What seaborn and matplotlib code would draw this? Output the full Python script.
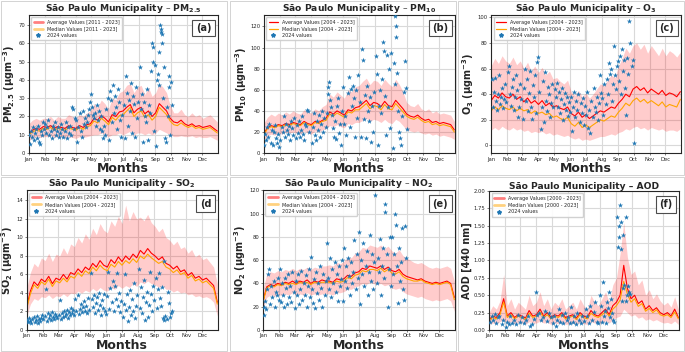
import numpy as np
import pandas as pd
import matplotlib
matplotlib.use("Agg")
import matplotlib.pyplot as plt
import matplotlib.dates as mdates
from matplotlib.lines import Line2D
from matplotlib.patches import Rectangle
import seaborn as sns

# weekly climatology (day 1, 8, ..., 365)
a_avg = [10.5, 12.5, 13.5, 13, 14.5, 14, 15, 13.5, 14.5, 14, 13.5, 15, 14, 13.5, 15, 14, 15.5, 16,
         19, 18, 20.5, 19, 17, 21, 20, 22.5, 23, 25, 26.5, 22, 24, 25, 21.5, 23, 20, 22, 27, 25, 23,
         19, 17, 16.5, 18, 16, 15, 16, 14.5, 15, 14, 14.5, 15, 13.5, 12]
a_med = [10, 11.5, 12.5, 12, 13.5, 13, 14, 12.5, 13.5, 13, 12.5, 14, 13, 12.5, 14, 13, 14.5, 15,
         17.5, 16.5, 19, 17.5, 15.5, 19.5, 18, 20.5, 21, 23, 25, 20, 22, 23, 19.5, 21, 18, 20, 25, 23, 21,
         17.5, 15.5, 15, 16.5, 15, 14, 15, 13.5, 14, 13, 13.5, 14, 12.5, 11]
a_lo = [7, 8, 9, 8.5, 9, 9, 9.5, 8.5, 9, 9, 8, 9, 8.5, 8, 9, 8.5, 9, 9.5, 10, 10, 11, 10, 9, 10, 10, 11,
        10, 11, 12, 10, 11, 11, 10, 11, 10, 11, 13, 12, 11, 10, 9, 9, 9.5, 9, 9, 9.5, 8.5, 9, 8.5, 8.5, 9, 8, 7]
a_hi = [16, 18, 19, 18, 19, 19, 20, 18, 20, 19, 19, 21, 20, 19, 21, 20, 22, 23, 27, 25, 29, 27, 24, 30, 29, 33,
        34, 37, 38, 33, 36, 37, 32, 36, 31, 33, 38, 36, 33, 26, 22, 22, 24, 21, 20, 22, 20, 21, 19, 20, 21, 19, 17]
a_day = [2, 3, 5, 7, 9, 11, 13, 15, 17, 19, 21, 23, 25, 27, 29, 31, 33, 35, 37, 39, 41, 43, 45, 47, 49, 51, 53, 55,
         57, 59, 62, 64, 66, 68, 70, 72, 74, 76, 78, 80, 82, 84, 86, 88, 90, 93, 95, 97, 99, 101, 103, 105, 107,
         109, 111, 113, 115, 117, 119, 121, 123, 125, 127, 129, 131, 133, 135, 137, 139, 141, 143, 145, 147, 149,
         151, 153, 155, 157, 159, 161, 163, 165, 167, 169, 171, 173, 175, 177, 179, 181, 184, 186, 188, 190, 192,
         194, 196, 198, 200, 202, 204, 206, 208, 210, 212, 215, 217, 219, 221, 223, 225, 227, 229, 231, 233, 235,
         237, 239, 240, 241, 243, 245, 247, 249, 251, 252, 253, 255, 256, 257, 258, 259, 261, 262, 264, 265, 267,
         269, 271, 272, 274, 276, 278]
a_val = [10, 5, 12, 9, 14, 7, 11, 13, 8, 15, 6, 5, 12, 10, 17, 13, 16, 11, 14, 18, 10, 12, 8, 15, 13, 17, 10, 12,
         14, 9, 11, 16, 13, 9, 12, 17, 8, 14, 11, 15, 10, 25, 24, 13, 19, 18, 6, 14, 22, 12, 9, 23, 16, 19, 14, 17,
         21, 24, 28, 32, 25, 21, 19, 22, 15, 26, 18, 23, 13, 20, 12, 8, 15, 10, 24, 30, 7, 34, 29, 17, 37, 22, 31,
         25, 13, 35, 28, 18, 9, 21, 26, 8, 42, 33, 15, 29, 23, 38, 11, 31, 27, 9, 36, 19, 28, 47, 24, 32, 6, 28, 20,
         17, 35, 7, 26, 22, 45, 60, 58, 50, 12, 48, 4, 40, 43, 37, 55, 70, 68, 66, 65, 60, 30, 47, 8, 6, 25, 20, 36,
         42, 10, 39, 26]

b_avg = [18, 24, 26, 25, 27, 26, 28, 27, 29, 28, 27, 30, 28, 27, 30, 29, 31, 33, 39, 37, 40, 38, 36, 41, 40, 43,
         44, 47, 50, 45, 48, 47, 44, 49, 45, 44, 50, 46, 42, 37, 35, 34, 36, 33, 31, 32, 29, 30, 28, 29, 28, 27, 22]
b_med = [17, 23, 25, 24, 26, 25, 27, 26, 28, 27, 26, 29, 27, 26, 29, 28, 30, 31, 37, 35, 38, 36, 34, 39, 38, 41,
         41, 44, 47, 42, 45, 44, 41, 46, 42, 41, 47, 43, 39, 35, 33, 32, 34, 31, 29, 30, 27, 28, 26, 27, 26, 25, 20]
b_lo = [12, 16, 18, 17, 19, 18, 20, 19, 20, 19, 18, 21, 19, 18, 21, 20, 22, 23, 26, 25, 27, 25, 24, 28, 27, 29,
        29, 31, 33, 30, 32, 31, 29, 32, 29, 28, 32, 30, 26, 22, 21, 20, 21, 19, 18, 19, 17, 18, 16, 17, 16, 15, 13]
b_hi = [28, 34, 37, 35, 38, 36, 39, 37, 40, 38, 37, 41, 39, 38, 42, 40, 44, 46, 56, 53, 58, 55, 52, 60, 58, 63,
        64, 68, 71, 65, 69, 68, 64, 70, 66, 63, 70, 65, 58, 48, 45, 44, 47, 42, 40, 42, 38, 40, 37, 38, 37, 36, 30]
b_day = [2, 4, 6, 8, 10, 12, 14, 16, 18, 20, 22, 24, 26, 28, 30, 33, 35, 37, 39, 41, 43, 45, 47, 49, 51, 53, 55, 57,
         59, 62, 64, 66, 68, 70, 72, 74, 76, 78, 80, 82, 84, 86, 88, 93, 95, 97, 99, 101, 103, 105, 107, 109, 111,
         113, 115, 117, 119, 121, 123, 124, 125, 127, 129, 131, 133, 135, 137, 139, 141, 143, 145, 147, 149, 151,
         153, 155, 157, 159, 161, 163, 165, 167, 169, 171, 173, 175, 177, 179, 181, 184, 186, 188, 190, 192, 194,
         196, 198, 200, 202, 204, 206, 208, 210, 212, 215, 217, 219, 221, 223, 225, 227, 229, 231, 233, 235, 237,
         239, 241, 243, 245, 247, 249, 251, 252, 253, 254, 256, 258, 260, 262, 264, 266, 268, 270, 272, 274]
b_val = [8, 18, 12, 25, 15, 28, 10, 22, 8, 20, 27, 14, 10, 18, 6, 12, 25, 20, 35, 15, 28, 22, 18, 26, 12, 30, 24,
         17, 33, 14, 27, 19, 30, 15, 22, 35, 18, 12, 28, 26, 41, 40, 20, 10, 25, 38, 17, 12, 30, 22, 36, 15, 28, 40,
         20, 33, 25, 38, 56, 63, 67, 50, 44, 36, 24, 15, 30, 13, 45, 52, 19, 28, 8, 40, 63, 28, 35, 17, 57, 72, 25,
         61, 45, 64, 52, 15, 60, 33, 74, 48, 15, 99, 88, 32, 55, 14, 64, 40, 30, 53, 11, 45, 20, 58, 92, 75, 8, 45,
         60, 38, 70, 105, 97, 54, 17, 93, 44, 80, 24, 95, 5, 85, 65, 130, 120, 110, 76, 40, 20, 14, 8, 35, 58, 87,
         62, 23]

c_avg = [35, 39, 37, 41, 38, 37, 40, 36, 38, 34, 37, 33, 35, 32, 35, 31, 33, 30, 31, 29, 28, 30, 25, 23, 26, 22,
         24, 21, 23, 25, 27, 26, 28, 30, 29, 33, 36, 40, 38, 44, 46, 43, 45, 41, 44, 42, 40, 43, 39, 41, 40, 38, 42]
c_med = [27, 30, 28, 31, 29, 28, 30, 27, 29, 27, 28, 25, 27, 25, 26, 24, 25, 22, 23, 21, 20, 22, 17, 15, 18, 14,
         16, 14, 16, 18, 20, 19, 21, 23, 22, 26, 29, 33, 31, 35, 37, 34, 36, 33, 35, 33, 31, 34, 30, 32, 31, 30, 36]
c_lo = [12, 14, 12, 15, 13, 12, 14, 12, 13, 11, 12, 10, 11, 10, 11, 9, 10, 8, 9, 8, 7, 8, 6, 5, 6, 4, 5, 4, 5, 6,
        7, 7, 8, 9, 8, 10, 11, 13, 12, 14, 15, 13, 14, 12, 14, 13, 12, 13, 11, 12, 12, 11, 13]
c_hi = [62, 68, 64, 70, 66, 64, 69, 63, 66, 60, 65, 58, 62, 57, 61, 55, 58, 52, 53, 50, 48, 51, 42, 39, 43, 38,
        41, 37, 40, 44, 48, 47, 51, 55, 53, 62, 68, 76, 72, 78, 80, 75, 79, 72, 78, 74, 70, 76, 70, 74, 72, 69, 73]
c_day = [2, 4, 6, 8, 10, 12, 14, 16, 18, 20, 22, 24, 26, 28, 30, 33, 35, 37, 39, 41, 43, 45, 47, 49, 51, 53, 55, 57,
         59, 62, 64, 66, 68, 70, 72, 74, 76, 78, 80, 82, 84, 86, 88, 90, 92, 94, 96, 98, 100, 102, 104, 106, 108,
         110, 112, 114, 116, 118, 120, 123, 125, 127, 129, 131, 133, 135, 137, 139, 141, 143, 145, 147, 149, 151,
         153, 155, 157, 159, 161, 163, 165, 167, 169, 171, 173, 175, 177, 179, 181, 184, 186, 188, 190, 192, 194,
         196, 198, 200, 202, 204, 206, 208, 210, 212, 215, 217, 219, 221, 223, 225, 227, 229, 231, 233, 235, 237,
         239, 241, 243, 245, 247, 249, 251, 253, 255, 257, 259, 261, 263, 265, 267, 269, 271, 273, 275]
c_val = [52, 30, 42, 53, 35, 28, 40, 55, 32, 38, 45, 29, 36, 48, 34, 57, 62, 40, 31, 46, 52, 28, 38, 55, 43, 22,
         30, 48, 36, 21, 45, 60, 35, 52, 27, 41, 58, 30, 21, 47, 38, 55, 25, 65, 69, 42, 13, 30, 50, 18, 57, 35, 27,
         46, 40, 22, 33, 48, 30, 44, 38, 49, 30, 42, 25, 36, 45, 20, 32, 41, 28, 38, 23, 34, 26, 38, 11, 30, 42, 22,
         35, 28, 40, 18, 33, 25, 37, 16, 31, 24, 42, 14, 28, 10, 35, 22, 45, 30, 26, 38, 20, 33, 55, 41, 37, 24, 48,
         32, 52, 40, 64, 56, 60, 35, 48, 78, 55, 44, 62, 66, 50, 70, 40, 75, 58, 67, 45, 24, 68, 56, 97, 80, 62, 67, 2]

d_avg = [2.5, 4.2, 5.2, 4.8, 5.5, 5.2, 5.8, 5.0, 5.6, 5.4, 6.0, 5.5, 6.2, 6.0, 6.6, 6.2, 6.8, 6.5, 7.2, 6.8, 7.5,
         7.0, 6.8, 7.6, 7.2, 7.9, 7.4, 8.0, 7.6, 8.2, 7.8, 8.6, 8.2, 8.8, 8.3, 8.0, 7.6, 7.9, 7.2, 7.0, 6.6, 6.9,
         6.3, 6.5, 5.9, 6.2, 5.6, 5.8, 5.4, 5.6, 5.2, 4.8, 3.0]
d_med = [2.3, 3.9, 4.9, 4.5, 5.2, 4.9, 5.5, 4.7, 5.3, 5.1, 5.6, 5.2, 5.8, 5.6, 6.2, 5.8, 6.4, 6.1, 6.8, 6.4, 7.0,
         6.6, 6.4, 7.1, 6.8, 7.4, 7.0, 7.5, 7.2, 7.7, 7.3, 8.0, 7.7, 8.2, 7.8, 7.5, 7.2, 7.4, 6.8, 6.6, 6.2, 6.5,
         6.0, 6.2, 5.6, 5.9, 5.3, 5.5, 5.1, 5.3, 4.9, 4.5, 2.8]
d_lo = [1.5, 2.8, 3.4, 3.2, 3.6, 3.5, 3.8, 3.4, 3.7, 3.6, 3.9, 3.6, 4.0, 3.9, 4.2, 4.0, 4.3, 4.1, 4.5, 4.2, 4.6,
        4.3, 4.2, 4.6, 4.4, 4.8, 4.5, 4.8, 4.6, 5.0, 4.7, 5.2, 5.0, 5.3, 5.0, 4.9, 4.6, 4.8, 4.4, 4.4, 4.1, 4.3,
        4.0, 4.1, 3.8, 3.9, 3.6, 3.7, 3.5, 3.6, 3.4, 3.0, 1.5]
d_hi = [4.5, 6.2, 7.2, 6.8, 7.8, 7.5, 8.3, 7.4, 8.2, 8.0, 8.9, 8.2, 9.3, 9.0, 10.0, 9.4, 10.4, 9.8, 11.0, 10.3,
        11.5, 10.8, 10.5, 11.8, 11.2, 12.3, 11.5, 13.5, 11.8, 12.8, 12.0, 12.2, 11.8, 12.5, 11.6, 11.2, 10.6, 11.0,
        10.0, 9.7, 9.2, 9.6, 8.8, 9.0, 8.3, 8.7, 7.9, 8.2, 7.6, 7.8, 7.3, 6.8, 5.0]
d_day = [2, 4, 6, 8, 10, 12, 14, 16, 18, 20, 22, 24, 26, 28, 30, 33, 35, 37, 39, 41, 43, 45, 47, 49, 51, 53, 55, 57,
         59, 62, 64, 66, 68, 70, 72, 74, 76, 78, 80, 82, 84, 86, 88, 90, 92, 94, 96, 98, 100, 102, 104, 106, 108,
         110, 112, 114, 116, 118, 120, 123, 125, 127, 129, 131, 133, 135, 137, 139, 141, 143, 145, 147, 149, 151,
         153, 155, 157, 159, 161, 163, 165, 167, 169, 171, 173, 175, 177, 179, 181, 184, 186, 188, 190, 192, 194,
         196, 198, 200, 202, 204, 206, 208, 210, 212, 215, 217, 219, 221, 223, 225, 227, 229, 231, 233, 235, 237,
         239, 241, 243, 245, 247, 249, 251, 253, 255, 257, 259, 261, 263, 264, 266, 268, 270, 272, 274, 276, 278]
d_val = [1.1, 0.9, 1.3, 1.0, 0.8, 1.2, 1.4, 0.9, 1.1, 1.5, 0.8, 1.2, 1.0, 1.3, 1.6, 1.2, 1.5, 4.4, 1.0, 1.8, 1.3,
         1.6, 1.1, 1.9, 1.4, 1.2, 1.7, 1.5, 1.3, 1.6, 3.2, 1.2, 1.8, 1.4, 2.0, 1.5, 1.7, 2.2, 1.3, 1.9, 1.6, 2.4,
         1.8, 2.2, 1.6, 3.4, 2.0, 3.8, 1.7, 2.3, 2.8, 1.9, 2.5, 3.1, 2.0, 2.6, 1.8, 3.5, 2.2, 6.2, 3.3, 2.5, 3.8,
         1.8, 2.9, 3.6, 2.2, 4.0, 2.7, 1.6, 3.2, 2.4, 3.9, 2.0, 1.7, 3.7, 6.3, 2.3, 4.5, 3.0, 5.3, 2.0, 4.8, 3.4,
         6.2, 2.6, 4.0, 1.9, 3.1, 1.4, 2.8, 6.0, 2.2, 3.9, 1.0, 2.5, 4.3, 1.6, 3.3, 2.0, 5.1, 1.3, 2.6, 3.8, 6.6,
         2.4, 4.6, 1.8, 3.6, 5.4, 1.1, 3.0, 4.1, 1.4, 2.7, 6.3, 3.9, 2.0, 4.8, 3.2, 5.6, 2.4, 4.4, 6.2, 3.5, 2.6,
         4.6, 1.3, 7.5, 1.1, 1.5, 1.2, 4.1, 2.9, 1.4, 1.8, 2.0]

e_avg = [25, 37, 39, 38, 40, 39, 41, 40, 42, 40, 42, 41, 43, 40, 42, 41, 43, 42, 42, 41, 44, 43, 44, 47, 46, 49,
         50, 53, 52, 55, 54, 53, 55, 52, 54, 51, 50, 52, 48, 46, 45, 44, 43, 44, 42, 41, 40, 41, 40, 41, 42, 40, 28]
e_med = [24, 36, 38, 37, 39, 38, 40, 39, 40, 39, 41, 40, 41, 39, 41, 40, 41, 41, 41, 40, 42, 41, 42, 45, 44, 47,
         48, 51, 50, 52, 52, 51, 53, 50, 52, 49, 48, 50, 46, 44, 43, 42, 42, 43, 41, 40, 39, 40, 39, 40, 41, 39, 26]
e_lo = [18, 28, 30, 29, 30, 30, 31, 30, 32, 30, 31, 30, 32, 30, 31, 30, 31, 31, 31, 30, 32, 32, 33, 35, 35, 37,
        38, 40, 39, 41, 40, 39, 40, 38, 39, 36, 35, 36, 33, 31, 30, 29, 28, 29, 27, 26, 25, 26, 25, 26, 27, 25, 16]
e_hi = [35, 48, 50, 49, 51, 50, 52, 51, 53, 51, 53, 52, 54, 52, 54, 53, 55, 55, 56, 55, 58, 57, 59, 63, 62, 66,
        67, 71, 70, 73, 72, 71, 73, 70, 72, 68, 66, 69, 64, 62, 60, 58, 57, 58, 56, 54, 53, 54, 53, 54, 55, 53, 42]
e_day = [2, 3, 5, 7, 9, 11, 13, 15, 17, 19, 21, 23, 25, 27, 29, 31, 33, 35, 37, 39, 41, 43, 45, 47, 49, 51, 53, 55,
         57, 59, 62, 64, 66, 68, 70, 72, 74, 76, 78, 80, 82, 84, 86, 88, 90, 92, 94, 96, 98, 100, 102, 104, 106, 108,
         110, 112, 114, 116, 118, 120, 123, 125, 127, 129, 131, 133, 135, 137, 139, 141, 143, 145, 147, 149, 151,
         153, 155, 157, 159, 161, 163, 165, 167, 169, 171, 173, 175, 177, 179, 181, 184, 186, 188, 190, 192, 194,
         196, 198, 200, 202, 204, 206, 208, 210, 212, 215, 217, 219, 221, 223, 225, 227, 229, 231, 233, 234, 236,
         238, 240, 242, 244, 246, 248, 250, 252, 254, 256, 258, 260, 262, 264, 266, 268, 270, 272, 274]
e_val = [13, 20, 25, 18, 35, 48, 52, 22, 38, 28, 42, 20, 33, 30, 45, 26, 52, 24, 40, 30, 20, 45, 36, 22, 48, 28,
         38, 24, 50, 33, 19, 42, 30, 48, 22, 35, 51, 26, 40, 30, 47, 20, 38, 52, 28, 63, 35, 23, 44, 19, 50, 32, 40,
         26, 55, 36, 20, 48, 30, 42, 75, 45, 35, 62, 28, 52, 40, 58, 33, 48, 25, 55, 38, 44, 60, 25, 70, 42, 55, 36,
         62, 46, 30, 58, 40, 50, 77, 35, 65, 45, 84, 22, 60, 48, 75, 38, 55, 68, 30, 50, 82, 42, 65, 35, 58, 116,
         40, 62, 50, 78, 30, 55, 70, 45, 108, 101, 65, 20, 52, 80, 38, 80, 48, 65, 100, 90, 55, 23, 70, 42, 58, 88,
         35, 26, 89, 62]

f_avg = [0.15, 0.2, 0.18, 0.25, 0.45, 0.2, 0.25, 0.18, 0.22, 0.2, 0.17, 0.28, 0.2, 0.22, 0.3, 0.2, 0.25, 0.18,
         0.22, 0.2, 0.25, 0.18, 0.2, 0.22, 0.17, 0.25, 0.2, 0.18, 0.28, 0.22, 0.2, 0.25, 0.3, 0.22, 0.35, 0.4, 0.5,
         0.93, 0.6, 0.45, 0.5, 0.38, 0.42, 0.3, 0.35, 0.28, 0.32, 0.25, 0.22, 0.25, 0.2, 0.3, 0.18]
f_med = [0.13, 0.18, 0.16, 0.22, 0.4, 0.18, 0.22, 0.16, 0.2, 0.18, 0.15, 0.24, 0.18, 0.2, 0.26, 0.18, 0.22,
         0.16, 0.2, 0.18, 0.22, 0.16, 0.18, 0.2, 0.15, 0.22, 0.18, 0.16, 0.24, 0.2, 0.18, 0.22, 0.26, 0.2, 0.3,
         0.35, 0.43, 0.7, 0.52, 0.4, 0.45, 0.34, 0.38, 0.27, 0.31, 0.25, 0.29, 0.22, 0.2, 0.22, 0.18, 0.26, 0.16]
f_lo = [0.08, 0.1, 0.09, 0.12, 0.15, 0.1, 0.12, 0.09, 0.11, 0.1, 0.08, 0.12, 0.1, 0.1, 0.13, 0.1, 0.11, 0.08,
        0.1, 0.09, 0.11, 0.08, 0.09, 0.1, 0.08, 0.11, 0.09, 0.08, 0.12, 0.1, 0.09, 0.11, 0.13, 0.1, 0.15, 0.18,
        0.2, 0.3, 0.25, 0.2, 0.22, 0.17, 0.19, 0.14, 0.16, 0.13, 0.15, 0.12, 0.1, 0.11, 0.09, 0.13, 0.08]
f_hi = [0.25, 0.35, 0.3, 0.42, 0.8, 0.35, 0.45, 0.3, 0.4, 0.35, 0.3, 0.5, 0.35, 0.4, 0.55, 0.35, 0.45, 0.3,
        0.4, 0.35, 0.45, 0.3, 0.35, 0.4, 0.3, 0.45, 0.35, 0.3, 0.5, 0.4, 0.35, 0.45, 0.55, 0.4, 0.65, 0.75, 1.1,
        1.55, 1.05, 0.8, 0.85, 0.65, 0.72, 0.5, 0.58, 0.45, 0.52, 0.42, 0.36, 0.4, 0.33, 0.48, 0.3]
f_day = [3, 6, 9, 12, 15, 18, 21, 25, 28, 33, 36, 39, 42, 46, 49, 53, 57, 60, 64, 68, 72, 76, 80, 84, 88, 92, 94,
         97, 100, 104, 108, 112, 116, 120, 123, 126, 129, 132, 135, 138, 141, 144, 147, 150, 153, 156, 159, 162,
         165, 168, 171, 174, 177, 180, 184, 187, 190, 193, 196, 199, 202, 205, 208, 211, 214, 216, 218, 220, 222,
         224, 226, 228, 230, 232, 234, 236, 238, 240, 242, 247, 249, 250, 251, 252, 254, 255, 256, 258, 259, 261,
         264, 265, 266, 268, 270, 272]
f_val = [0.12, 0.2, 0.15, 0.23, 0.1, 0.18, 0.2, 0.08, 0.14, 0.05, 0.12, 0.09, 0.2, 0.1, 0.15, 0.08, 0.22, 0.12,
         0.18, 0.1, 0.14, 0.2, 0.06, 0.08, 0.16, 0.55, 0.22, 0.25, 0.15, 0.19, 0.27, 0.13, 0.24, 0.18, 0.1, 0.2,
         0.06, 0.15, 0.3, 0.12, 0.22, 0.1, 0.25, 0.14, 0.18, 0.1, 0.33, 0.12, 0.2, 0.08, 0.25, 0.15, 0.1, 0.2, 0.13,
         0.3, 0.2, 0.1, 0.35, 0.15, 0.26, 0.4, 0.12, 0.1, 0.5, 0.35, 0.12, 0.69, 0.2, 0.28, 0.1, 0.4, 0.32, 0.55,
         0.18, 0.45, 0.25, 0.15, 0.12, 1.63, 1.2, 1.34, 1.5, 1.8, 1.55, 1.16, 0.42, 1.37, 0.6, 0.65, 1.62, 0.42, 0.5,
         0.64, 0.55, 0.52]

panels = [
    dict(avg=a_avg, med=a_med, lo=a_lo, hi=a_hi, day=a_day, val=a_val, years="2011 - 2023", soft=True,
         title="São Paulo Municipality – PM$_{\\mathbf{2.5}}$", ylabel="PM$_{\\mathbf{2.5}}$ (µgm$^{\\mathbf{-3}}$)",
         tag="(a)", ylim=(0, 75.5), yticks=np.arange(0, 71, 10), rect=[0.042, 0.565, 0.276, 0.393]),
    dict(avg=b_avg, med=b_med, lo=b_lo, hi=b_hi, day=b_day, val=b_val, years="2004 - 2023", soft=False,
         title="São Paulo Municipality – PM$_{\\mathbf{10}}$", ylabel="PM$_{\\mathbf{10}}$ (µgm$^{\\mathbf{-3}}$)",
         tag="(b)", ylim=(0, 131), yticks=np.arange(0, 121, 20), rect=[0.385, 0.565, 0.279, 0.393]),
    dict(avg=c_avg, med=c_med, lo=c_lo, hi=c_hi, day=c_day, val=c_val, years="2004 - 2023", soft=False,
         title="São Paulo Municipality – O$_{\\mathbf{3}}$", ylabel="O$_{\\mathbf{3}}$ (µgm$^{\\mathbf{-3}}$)",
         tag="(c)", ylim=(-6, 102), yticks=np.arange(0, 101, 20), rect=[0.717, 0.565, 0.277, 0.393]),
    dict(avg=d_avg, med=d_med, lo=d_lo, hi=d_hi, day=d_day, val=d_val, years="2004 - 2023", soft=True,
         title="São Paulo Municipality - SO$_{\\mathbf{2}}$", ylabel="SO$_{\\mathbf{2}}$ (µgm$^{\\mathbf{-3}}$)",
         tag="(d", ylim=(0, 15.1), yticks=np.arange(0, 15, 2), rect=[0.039, 0.0625, 0.279, 0.397]),
    dict(avg=e_avg, med=e_med, lo=e_lo, hi=e_hi, day=e_day, val=e_val, years="2004 - 2023", soft=True,
         title="São Paulo Municipality – NO$_{\\mathbf{2}}$", ylabel="NO$_{\\mathbf{2}}$ (µgm$^{\\mathbf{-3}}$)",
         tag="(e)", ylim=(0, 120), yticks=np.arange(0, 121, 20), rect=[0.384, 0.0625, 0.280, 0.397]),
    dict(avg=f_avg, med=f_med, lo=f_lo, hi=f_hi, day=f_day, val=f_val, years="2000 - 2023", soft=True,
         title="São Paulo Municipality – AOD", ylabel="AOD [440 nm]",
         tag="(f)", ylim=(0, 2.0), yticks=np.arange(0, 2.01, 0.25), rect=[0.714, 0.0625, 0.277, 0.395]),
]

sns.set_theme(style="whitegrid", rc={"axes.edgecolor": "0.15", "grid.color": "0.85", "grid.linewidth": 0.8,
                                     "axes.linewidth": 0.8, "xtick.bottom": True, "ytick.left": True})
plt.rcParams['font.family'] = ['DejaVu Sans']

start = pd.Timestamp("2024-01-01")
weeks = pd.date_range(start, periods=53, freq="7D")

fig = plt.figure(figsize=(6.85, 3.52), dpi=100)

# thin frames around each panel image
for x0, y0 in [(0.002, 0.503), (0.336, 0.503), (0.669, 0.503), (0.002, 0.003), (0.336, 0.003), (0.669, 0.003)]:
    fig.patches.append(Rectangle((x0, y0), 0.329, 0.494, transform=fig.transFigure, fill=False,
                                 ec="0.8", lw=0.6))

for p in panels:
    ax = fig.add_axes(p["rect"])
    ax.fill_between(weeks, p["lo"], p["hi"], color="red", alpha=0.2, lw=0)
    sns.lineplot(x=weeks, y=p["avg"], ax=ax, color="red", lw=0.8, legend=False)
    sns.lineplot(x=weeks, y=p["med"], ax=ax, color="orange", lw=0.8, legend=False)
    pts = start + pd.to_timedelta(np.array(p["day"]) - 1, unit="D")
    sns.scatterplot(x=pts, y=p["val"], ax=ax, color="#1f77b4", marker="*", s=16, linewidth=0,
                    legend=False, zorder=3)

    lw, al = (2.0, 0.5) if p["soft"] else (0.9, 1.0)
    handles = [Line2D([], [], color="red", lw=lw, alpha=al),
               Line2D([], [], color="orange", lw=lw, alpha=al),
               Line2D([], [], color="#1f77b4", marker="*", ls="", ms=3)]
    labels = [f"Average Values [{p['years']}]", f"Median Values [{p['years']}]", "2024 values"]
    ax.legend(handles, labels, loc="upper left", fontsize=3.5, frameon=True, framealpha=0.9,
              borderpad=0.5, handlelength=2.0, labelspacing=0.35, handletextpad=0.8)

    ax.set_xlim(start, pd.Timestamp("2024-12-31"))
    ax.set_ylim(*p["ylim"])
    ax.set_yticks(p["yticks"])
    if p["tag"] == "(f)":
        ax.yaxis.set_major_formatter(matplotlib.ticker.FormatStrFormatter("%.2f"))
    ax.xaxis.set_major_locator(mdates.MonthLocator())
    ax.xaxis.set_major_formatter(mdates.DateFormatter("%b"))
    ax.tick_params(axis="both", labelsize=3.8, pad=1, length=1.5, width=0.5, color="0.3")

    ax.set_title(p["title"], fontsize=6.6, fontweight="bold", pad=1.5)
    ax.set_xlabel("Months", fontsize=9, fontweight="bold", labelpad=0.5)
    ax.set_ylabel(p["ylabel"], fontsize=7, fontweight="bold", labelpad=1)

    ax.text(0.965, 0.94, p["tag"], transform=ax.transAxes, ha="right", va="top", fontsize=7,
            fontweight="bold", bbox=dict(boxstyle="square,pad=0.35", fc="white", ec="0.3", lw=0.8))

fig.savefig("out.png", dpi=100)
